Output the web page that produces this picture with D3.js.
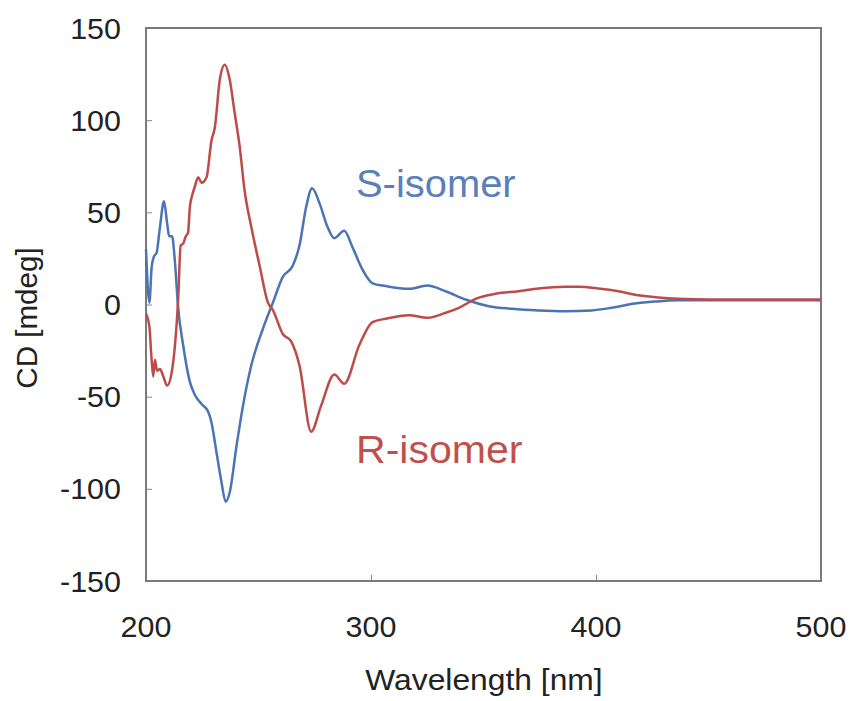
<!DOCTYPE html>
<html>
<head>
<meta charset="utf-8">
<script src="https://cdn.jsdelivr.net/npm/d3@7"></script>
<style>
  body { margin: 0; background: #fff; }
  text { font-family: "Liberation Sans", Arial, sans-serif; }
</style>
</head>
<body>
<svg id="chart" width="852" height="701"></svg>
<script>
// CD spectra (nm, mdeg)
const sWavelength = [200, 201.5, 202.5, 203.5, 204.7, 206.2, 208, 209.4, 210.3, 211.6, 212.8, 214.3,
  216.5, 219.5, 221.7, 224.7, 227.6, 229.1, 231.3, 233.5, 235.4, 237.2, 240.2, 243.1, 246.8, 252,
  256.4, 260.8, 265.2, 268.2, 271.2, 273.8, 277.1, 280.7, 283.7, 288.1, 291.8, 296.2, 300.7, 306.6,
  316.9, 325, 333.2, 342, 352.3, 362.7, 374.5, 386.3, 398.1, 406.9, 417.3, 426.2, 436.5, 451.2, 475, 498.5, 500]
const sCD = [30, 1, 20, 26, 28, 42, 56, 44, 37, 37, 24, -2,
  -22, -42, -49, -54, -58, -64, -80, -96, -107, -102, -77, -55, -33, -13,
  1, 15, 21, 32, 53, 63, 55, 42, 36, 40, 31, 19, 11.5, 10,
  8.5, 10.3, 7.2, 2.7, -0.9, -2.3, -3.2, -3.6, -3.2, -1.8, 0.5, 1.6, 2.3, 2.3, 2.3, 2.3, 2.3]

const rWavelength = [200, 201.5, 202.5, 203.2, 204, 204.9, 206.2, 207.7, 209.4, 211.4, 212.8, 214.3,
  215.4, 216.5, 217.7, 218.7, 219.5, 220.7, 221.7, 223.2, 224.7, 226.9, 229.1, 230.6, 232.8, 235,
  237.2, 239.4, 241.6, 243.8, 246.8, 250.5, 254.2, 256.4, 260.8, 264.5, 268.2, 273.4, 277.8, 283.7,
  288.1, 294.8, 300.7, 306.6, 316.9, 325, 333.2, 339.1, 346.5, 355.3, 365.6, 374.5, 386.3, 392.2,
  401, 410, 418.8, 427.7, 436.5, 451.2, 475, 500]
const rCD = [-5, -12, -30, -39, -30, -36, -35, -39, -44, -37, -23, 3,
  32, 33, 37, 39, 53, 60, 64, 69, 66, 69, 89, 96, 122, 130,
  122, 104, 86, 62, 42, 21, 1, -3, -16, -20, -33, -69, -55, -38,
  -43, -22, -9.5, -7.7, -5.8, -7.2, -4.5, -1.8, 3.1, 5.8, 7.2, 8.7, 9.6, 9.6,
  8.7, 7.2, 5, 3.8, 3.1, 2.7, 2.7, 2.7]

const xTicks = [200, 300, 400, 500]
const yTicks = [-150, -100, -50, 0, 50, 100, 150]

const BLUE = '#4a75b2', RED = '#bd4b49'

const m = { left: 146, right: 821, top: 28, bottom: 581 }
const svg = d3.select('#chart')

const x = d3.scaleLinear().domain([200, 500]).range([m.left, m.right])
const y = d3.scaleLinear().domain([-150, 150]).range([m.bottom, m.top])

// the original's text is a little wider than Arial; stretch it a bit
function stretch(sel, k) {
  sel.each(function () {
    this.setAttribute('textLength', this.getComputedTextLength() * k)
    this.setAttribute('lengthAdjust', 'spacingAndGlyphs')
  })
}

// ticks inside the frame
svg.append('g')
  .attr('transform', `translate(0,${m.bottom})`)
  .call(d3.axisTop(x).tickValues(xTicks).tickSize(6).tickFormat(''))
  .call(g => g.select('.domain').remove())
  .call(g => g.selectAll('line').attr('stroke', '#888'))

svg.append('g')
  .attr('transform', `translate(${m.left},0)`)
  .call(d3.axisRight(y).tickValues(yTicks).tickSize(6).tickFormat(''))
  .call(g => g.select('.domain').remove())
  .call(g => g.selectAll('line').attr('stroke', '#888'))

// tick labels
svg.append('g').selectAll('text').data(xTicks).join('text')
  .attr('x', d => x(d)).attr('y', 637)
  .attr('text-anchor', 'middle')
  .style('font-size', '29px').style('fill', '#222')
  .text(d => d)
  .call(stretch, 1.05)

svg.append('g').selectAll('text').data(yTicks).join('text')
  .attr('x', 121).attr('y', d => y(d) + 10.5)
  .attr('text-anchor', 'end')
  .style('font-size', '29px').style('fill', '#222')
  .text(d => d)
  .call(stretch, 1.05)

// frame
svg.append('rect')
  .attr('x', m.left).attr('y', m.top)
  .attr('width', m.right - m.left).attr('height', m.bottom - m.top)
  .attr('fill', 'none').attr('stroke', '#7a7a7a').attr('stroke-width', 2)

const line = d3.line().x(d => x(d[0])).y(d => y(d[1])).curve(d3.curveMonotoneX)

svg.append('path')
  .datum(d3.zip(sWavelength, sCD))
  .attr('d', line)
  .attr('fill', 'none').attr('stroke', BLUE).attr('stroke-width', 2.5)

svg.append('path')
  .datum(d3.zip(rWavelength, rCD))
  .attr('d', line)
  .attr('fill', 'none').attr('stroke', RED).attr('stroke-width', 2.5)

// series labels
svg.append('text').attr('x', 356).attr('y', 197)
  .style('font-size', '38px').style('fill', '#5a80b9')
  .text('S-isomer')
  .call(stretch, 1.05)
svg.append('text').attr('x', 356).attr('y', 463)
  .style('font-size', '38px').style('fill', '#c0504d')
  .text('R-isomer')
  .call(stretch, 1.08)

// axis titles
svg.append('text')
  .attr('transform', 'translate(37,318) rotate(-90)')
  .attr('text-anchor', 'middle')
  .style('font-size', '29px').style('fill', '#222')
  .text('CD [mdeg]')
  .call(stretch, 1.02)

svg.append('text')
  .attr('x', 484).attr('y', 690)
  .attr('text-anchor', 'middle')
  .style('font-size', '30px').style('fill', '#222')
  .text('Wavelength [nm]')
  .call(stretch, 1.06)
</script>
</body>
</html>
